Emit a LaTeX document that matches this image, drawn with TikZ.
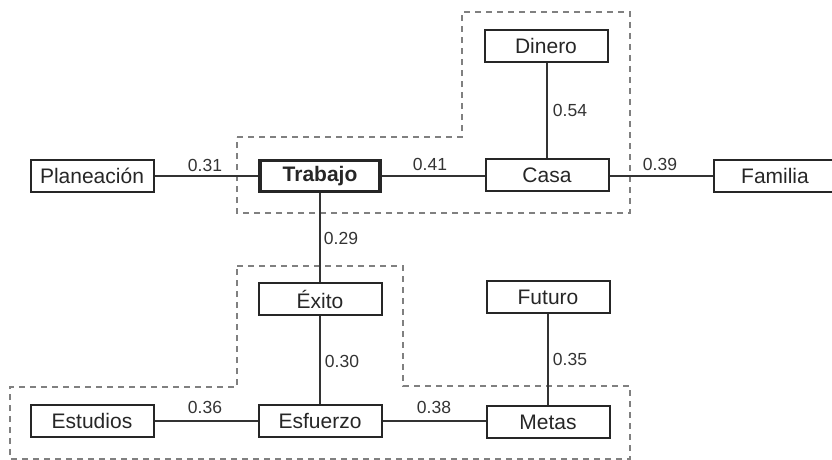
\documentclass[tikz,border=0pt]{standalone}
\usepackage{fontspec}
\setmainfont{Liberation Sans}
\begin{document}
\begin{tikzpicture}[x=1pt,y=-1pt,
  box/.style={draw=black!85,line width=2pt,rectangle,minimum width=123pt,minimum height=32pt,inner sep=0pt,font=\fontsize{21}{23}\selectfont,text=black!85},
  mainbox/.style={box,line width=3.8pt,minimum width=120pt,minimum height=31pt,font=\fontsize{21}{23}\selectfont\bfseries},
  link/.style={draw=black!80,line width=1.7pt},
  lab/.style={font=\fontsize{17.5}{19}\selectfont,text=black!80,inner sep=1pt},
  grp/.style={draw=black!50,line width=2.6pt,dash pattern=on 6pt off 5pt}]
\useasboundingbox (0,0) rectangle (832,460);
% groups
\draw[grp] (237,137) -- (462,137) -- (462,12) -- (630,12) -- (630,213) -- (237,213) -- cycle;
\draw[grp] (237,266) -- (403,266) -- (403,386) -- (630,386) -- (630,459) -- (10,459) -- (10,387) -- (237,387) -- cycle;
% nodes
\node[box] (plan) at (92,176) {Planeación};
\node[mainbox] (trab) at (320,176) {Trabajo};
\node[box] (casa) at (547,175) {Casa};
\node[box] (fam) at (775,176) {Familia};
\node[box] (din) at (546,46) {Dinero};
\node[box] (exito) at (320,299) {Éxito};
\node[box] (fut) at (548,297) {Futuro};
\node[box] (est) at (92,421) {Estudios};
\node[box] (esf) at (320,421) {Esfuerzo};
\node[box] (met) at (548,422) {Metas};
% links
\draw[link] (plan.east) -- (trab.west);
\draw[link] (trab.east) -- (casa.west |- trab.east);
\draw[link] (casa.east |- fam.west) -- (fam.west);
\draw[link] (din.south -| casa.north) -- (casa.north);
\draw[link] (trab.south) -- (exito.north);
\draw[link] (exito.south) -- (esf.north);
\draw[link] (est.east) -- (esf.west);
\draw[link] (esf.east) -- (met.west |- esf.east);
\draw[link] (fut.south) -- (met.north -| fut.south);
% labels
\node[lab] (l1) at (205,165) {0.31};
\node[lab] (l2) at (430,164) {0.41};
\node[lab] (l3) at (660,164) {0.39};
\node[lab] (l4) at (570,110) {0.54};
\node[lab] (l5) at (341,238) {0.29};
\node[lab] (l6) at (342,361) {0.30};
\node[lab] (l7) at (570,359) {0.35};
\node[lab] (l8) at (205,407) {0.36};
\node[lab] (l9) at (434,407) {0.38};
\end{tikzpicture}
\end{document}
